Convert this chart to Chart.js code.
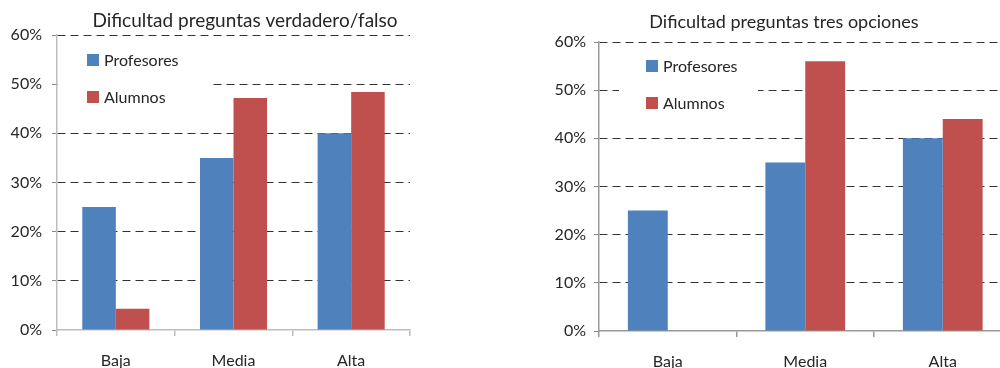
<!DOCTYPE html>
<html>
<head>
<meta charset="utf-8">
<script src="https://cdn.jsdelivr.net/npm/chart.js@4.4.1/dist/chart.umd.min.js"></script>
<style>
  html, body { margin: 0; padding: 0; background: #fff; overflow: hidden; width: 1000px; height: 368px; }
  .box { position: absolute; top: 0; height: 368px; }
  #leftBox { left: 0; width: 420px; }
  #rightBox { left: 530px; width: 490px; }
</style>
</head>
<body>
<div class="box" id="leftBox"><canvas id="c1" width="420" height="368"></canvas></div>
<div class="box" id="rightBox"><canvas id="c2" width="490" height="368"></canvas></div>
<script>
const categories = ['Baja', 'Media', 'Alta'];
const seriesNames = ['Profesores', 'Alumnos'];
const vfProfesores = [25, 35, 40];
const vfAlumnos = [4.3, 47.2, 48.4];
const toProfesores = [25, 35, 40];
const toAlumnos = [0, 56, 44];
const titleVF = 'Dificultad preguntas verdadero/falso';
const titleTO = 'Dificultad preguntas tres opciones';
const yMin = 0, yMax = 60, yStep = 10;

const BLUE = '#4F81BD', RED = '#C0504D';
const FONT = 'Lato, "Open Sans", sans-serif';

const overlayPlugin = {
  id: 'overlay',
  afterDraw(chart, args, o) {
    const ctx = chart.ctx, a = chart.chartArea;
    ctx.save();
    ctx.fillStyle = '#262626';
    ctx.font = o.titleSize + 'px ' + FONT;
    ctx.textAlign = 'center';
    ctx.textBaseline = 'middle';
    ctx.fillText(o.title, o.titleX, o.titleY);
    ctx.fillStyle = '#fff';
    ctx.fillRect(a.left + o.bgX0, a.top + o.bgY0, o.bgX1 - o.bgX0, o.bgY1 - o.bgY0);
    ctx.font = '16px ' + FONT;
    ctx.textAlign = 'left';
    chart.data.datasets.forEach((ds, i) => {
      const sx = a.left + o.legX, sy = a.top + o.legY + i * 37;
      ctx.fillStyle = ds.backgroundColor;
      ctx.fillRect(sx, sy, 12, 12);
      ctx.fillStyle = '#262626';
      ctx.fillText(ds.label, sx + 17, sy + 7);
    });
    ctx.restore();
  }
};

function makeChart(id, prof, alum, opt) {
  return new Chart(document.getElementById(id), {
    type: 'bar',
    data: {
      labels: categories,
      datasets: [
        { label: seriesNames[0], data: prof, backgroundColor: BLUE },
        { label: seriesNames[1], data: alum, backgroundColor: RED }
      ]
    },
    options: {
      responsive: false,
      animation: false,
      devicePixelRatio: 1,
      layout: { padding: { left: 0, right: opt.padRight, top: opt.padTop, bottom: 0 } },
      categoryPercentage: opt.catPct,
      barPercentage: 1.0,
      plugins: {
        legend: { display: false },
        title: { display: false },
        tooltip: { enabled: false },
        overlay: opt.overlay
      },
      scales: {
        x: {
          offset: true,
          grid: { display: true, drawOnChartArea: false, drawTicks: true, tickLength: 6, color: opt.axisColor, offset: true, lineWidth: 1.5 },
          border: { display: true, color: opt.axisColor, width: 1.5 },
          ticks: { color: '#262626', font: { family: FONT, size: 16 }, padding: 15 },
          afterFit(s) { s.height = opt.xHeight; }
        },
        y: {
          min: yMin, max: yMax,
          ticks: { stepSize: yStep, color: '#262626', font: { family: FONT, size: 16 }, padding: opt.yPad, callback: v => v + '%' },
          grid: {
            drawTicks: true, tickLength: 5,
            color: c => c.tick && c.tick.value === 0 ? 'rgba(0,0,0,0)' : '#333333',
            tickColor: '#888',
            tickBorderDash: [],
            lineWidth: 1
          },
          border: { display: true, color: opt.axisColor, width: 1.5, dash: [8, 5] },
          afterFit(s) { s.width = opt.yWidth; }
        }
      }
    },
    plugins: [overlayPlugin]
  });
}

makeChart('c1', vfProfesores, vfAlumnos, {
  padRight: 10, padTop: 35, catPct: 0.57, axisColor: '#bdbdbd', xHeight: 38, yWidth: 57, yPad: 10,
  overlay: { title: titleVF, titleSize: 19, titleX: 245, titleY: 21,
             bgX0: 1, bgY0: 10, bgX1: 153, bgY1: 78, legX: 30, legY: 19 }
});
makeChart('c2', toProfesores, toAlumnos, {
  padRight: 8.5, padTop: 42, catPct: 0.58, axisColor: '#9a9a9a', xHeight: 37, yWidth: 69, yPad: 8,
  overlay: { title: titleTO, titleSize: 18, titleX: 254, titleY: 22,
             bgX0: 20, bgY0: 10, bgX1: 159, bgY1: 78, legX: 47, legY: 18 }
});
</script>
</body>
</html>
